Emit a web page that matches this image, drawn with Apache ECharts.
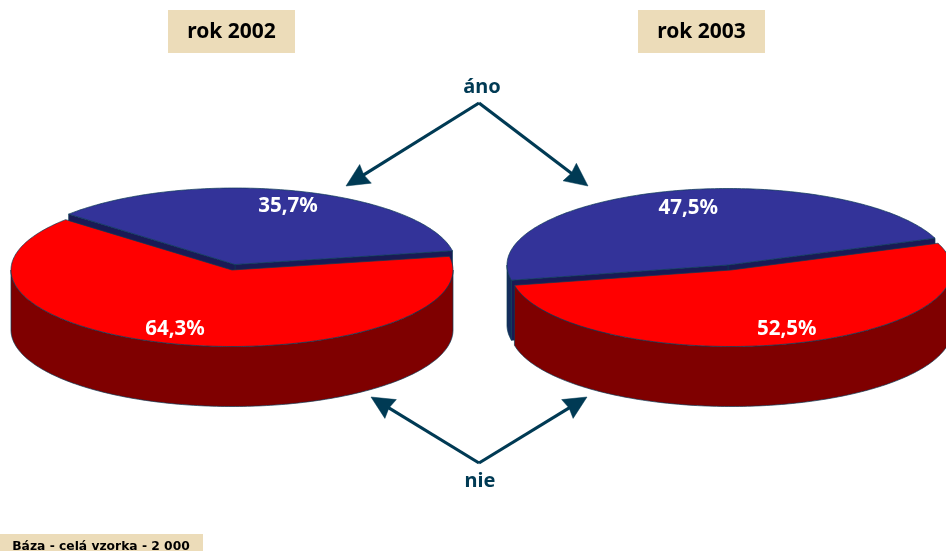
<!DOCTYPE html>
<html>
<head>
<meta charset="utf-8">
<style>html,body{margin:0;padding:0;background:#fff}#c{width:946px;height:551px}</style>
<script src="https://cdn.jsdelivr.net/npm/echarts@6/dist/echarts.min.js"></script>
</head>
<body>
<div id="c"></div>
<script>
// Data
const years = ['rok 2002', 'rok 2003'];
const yesShare = [35.7, 47.5];
const noShare = [64.3, 52.5];
const yesLabel = 'áno';
const noLabel = 'nie';
const baseNote = 'Báza - celá vzorka - 2 000';

// Layout
const RX = 221, RY = 76.5, DEPTH = 60, LABEL_R = 0.8;
const pies = [
  { start: 10.3, yes: [235, 264.5], no: [232, 270], nudgeYes: [6, 1], nudgeNo: [-10, 0], box: 168 },
  { start: 20.5, yes: [728, 265], no: [731, 270], nudgeYes: [9, 2], nudgeNo: [7, 0], box: 638 }
];
const C = { blue: '#333399', red: '#ff0000', wall: '#7f0000', cut: '#1a1a55', blueWall: '#142c5c',
  line: '#0b3a55', ink: '#003a54', box: '#ecdcb9' };
const FONT = '"Noto Sans", sans-serif';

const pt = (c, a, dy) => [c[0] + RX * Math.cos(a * Math.PI / 180), c[1] - RY * Math.sin(a * Math.PI / 180) + (dy || 0)];
function arc(c, a0, a1, dy) {
  const out = [], n = Math.max(2, Math.ceil(Math.abs(a1 - a0)));
  for (let i = 0; i <= n; i++) out.push(pt(c, a0 + (a1 - a0) * i / n, dy));
  return out;
}
const poly = (points, fill, w) => ({
  type: 'polygon', shape: { points },
  style: { fill, stroke: C.line, lineWidth: w === undefined ? 0.7 : w, lineJoin: 'round' }
});
function wall(c, a0, a1, fill) {
  if (a1 <= a0) return null;
  return poly(arc(c, a0, a1).concat(arc(c, a1, a0, DEPTH)), fill);
}
function cutFace(c, a, fill) {
  const e = pt(c, a);
  return poly([c, e, [e[0], e[1] + DEPTH], [c[0], c[1] + DEPTH]], fill);
}
function frontSpan(a0, a1) { // part of the rim facing the viewer (180..360 deg)
  return [Math.max(a0, 180), Math.min(a1, 360)];
}
function label(c, mid, nudge, value) {
  const p = pt(c, mid);
  const q = [c[0] + (p[0] - c[0]) * LABEL_R + nudge[0], c[1] + (p[1] - c[1]) * LABEL_R + nudge[1]];
  return {
    type: 'text',
    style: { x: q[0], y: q[1], text: value.toFixed(1).replace('.', ',') + '%', fill: '#fff',
      font: 'bold 20.5px ' + FONT, align: 'center', verticalAlign: 'middle' },
    z2: 10
  };
}

function renderPie(params, api) {
  const i = api.value(0), yes = api.value(1), no = api.value(2), P = pies[i];
  const a0 = P.start, a1 = a0 + yes * 3.6, a2 = a1 + no * 3.6;
  const kids = [];
  // yes slice, lifted away from the no slice
  kids.push(cutFace(P.yes, a0, C.cut), cutFace(P.yes, a1, C.cut));
  const fy = frontSpan(a0, a1);
  const wy = wall(P.yes, fy[0], fy[1], C.blueWall);
  if (wy) kids.push(wy);
  kids.push(poly([P.yes].concat(arc(P.yes, a0, a1)), C.blue));
  // no slice in front
  const fn = frontSpan(a1, a2);
  const wn = wall(P.no, fn[0], fn[1], C.wall);
  if (wn) kids.push(wn);
  kids.push(poly([P.no].concat(arc(P.no, a1, a2)), C.red));
  kids.push(label(P.yes, (a0 + a1) / 2, P.nudgeYes, yes));
  kids.push(label(P.no, (a1 + a2) / 2, P.nudgeNo, no));
  return { type: 'group', children: kids };
}

function arrow(from, tip) {
  const dx = tip[0] - from[0], dy = tip[1] - from[1], L = Math.hypot(dx, dy), ux = dx / L, uy = dy / L;
  const at = (b, s) => [tip[0] - ux * b - uy * s, tip[1] - uy * b + ux * s];
  return [
    { type: 'line', shape: { x1: from[0], y1: from[1], x2: at(18, 0)[0], y2: at(18, 0)[1] },
      style: { stroke: C.ink, lineWidth: 3.2 } },
    { type: 'polygon', shape: { points: [tip, at(23, 11), at(21, 0), at(23, -11)] },
      style: { fill: C.ink, stroke: C.ink, lineWidth: 0.5 } }
  ];
}
function box(x, y, w, h, text, font, offset) {
  return {
    type: 'rect', shape: { x, y, width: w, height: h }, style: { fill: C.box },
    textContent: { style: { text, font, fill: '#000' } },
    textConfig: { position: 'inside', offset: offset || [0, 0] }
  };
}
const titleText = (x, y, text) => ({
  type: 'text', style: { x, y, text, font: 'bold 20px ' + FONT, fill: C.ink, align: 'center', verticalAlign: 'middle' }
});

const chart = echarts.init(document.getElementById('c'), null, { renderer: 'canvas' });
chart.setOption({
  animation: false,
  backgroundColor: '#fff',
  graphic: [].concat(
    years.map((y, i) => box(pies[i].box, 10, 127, 43, y, 'bold 21px ' + FONT, [0, 1])),
    [box(0, 534, 203, 17, baseNote, 'bold 12.3px "DejaVu Sans", sans-serif', [-0.5, 4])],
    arrow([479, 103], [346, 186]), arrow([479, 103], [588, 186]),
    arrow([479, 463], [371, 397]), arrow([479, 463], [587, 397]),
    [titleText(482, 87, yesLabel), titleText(480, 481.5, noLabel)]
  ),
  series: [{
    type: 'custom',
    coordinateSystem: 'none',
    renderItem: renderPie,
    silent: true,
    data: years.map((y, i) => [i, yesShare[i], noShare[i]])
  }]
});
</script>
</body>
</html>
